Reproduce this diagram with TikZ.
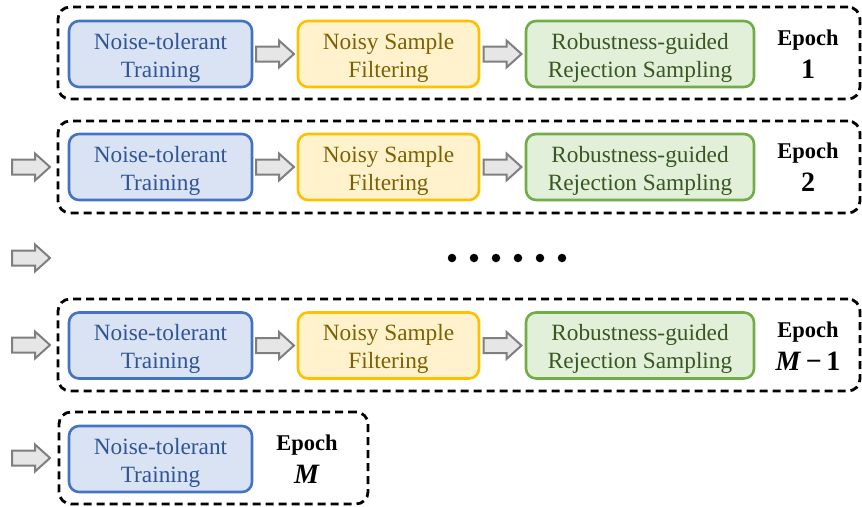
\documentclass[tikz,border=0pt]{standalone}
\usepackage{fontspec}
\setmainfont{Liberation Serif}
\usetikzlibrary{calc}
\definecolor{bfill}{HTML}{DAE3F3}
\definecolor{bdraw}{HTML}{4472C4}
\definecolor{btext}{HTML}{2F5597}
\definecolor{yfill}{HTML}{FFF2CC}
\definecolor{ydraw}{HTML}{FFC000}
\definecolor{ytext}{HTML}{7F6000}
\definecolor{gfill}{HTML}{E2F0D9}
\definecolor{gdraw}{HTML}{70AD47}
\definecolor{gtext}{HTML}{385723}
\definecolor{afill}{HTML}{E7E6E6}
\definecolor{adraw}{HTML}{7F7F7F}
\tikzset{
  x=1pt, y=-1pt,
  stepbox/.style={rounded corners=10pt, line width=2.6pt, minimum height=66pt, inner sep=0pt},
  steptext/.style={align=center, inner sep=0pt, yshift=-3.5pt, font=\fontsize{23.3}{28}\selectfont},
  bluebox/.style={stepbox, fill=bfill, draw=bdraw, minimum width=183pt,
    label={[steptext, text=btext]center:Noise-tolerant\\Training}},
  yellowbox/.style={stepbox, fill=yfill, draw=ydraw, minimum width=181pt,
    label={[steptext, text=ytext]center:Noisy Sample\\Filtering}},
  greenbox/.style={stepbox, fill=gfill, draw=gdraw, minimum width=228pt,
    label={[steptext, text=gtext]center:Robustness-guided\\Rejection Sampling}},
  dbox/.style={draw=black, line width=2.8pt, dash pattern=on 8pt off 5pt, rounded corners=12pt, minimum height=92pt, inner sep=0pt},
  epochlab/.style={align=center, inner sep=0pt, font=\fontsize{22.5}{33}\selectfont\bfseries},
  barrowstyle/.style={fill=afill, draw=adraw, line width=2pt},
  barrow/.pic={\draw[barrowstyle] (-19,-7.5) -- (4,-7.5) -- (4,-13.5) -- (19,0) -- (4,13.5) -- (4,7.5) -- (-19,7.5) -- cycle;},
  dotc/.style={circle, fill=black, minimum size=8.5pt, inner sep=0pt}
}
\begin{document}
\begin{tikzpicture}
\useasboundingbox (0,0) rectangle (862,506);
% Row 1
\node[dbox, minimum width=802pt] (d1) at (459,53) {};
\node[bluebox] (b1) at (160.5,54) {};
\node[yellowbox] (y1) at (388.5,54) {};
\node[greenbox] (g1) at (640,54) {};
\node[epochlab] (e1) at (808,54) {Epoch\\{\fontsize{28}{28}\selectfont 1}};
\pic at ($(b1.east)!0.5!(y1.west)$) {barrow};
\pic at ($(y1.east)!0.5!(g1.west)$) {barrow};
% Row 2
\node[dbox, minimum width=802pt] (d2) at (459,167) {};
\node[bluebox] (b2) at (160.5,167) {};
\node[yellowbox] (y2) at (388.5,167) {};
\node[greenbox] (g2) at (640,167) {};
\node[epochlab] (e2) at (808,167) {Epoch\\{\fontsize{28}{28}\selectfont 2}};
\pic at ($(b2.east)!0.5!(y2.west)$) {barrow};
\pic at ($(y2.east)!0.5!(g2.west)$) {barrow};
\coordinate (l2) at (31,167);
\pic at (l2) {barrow};
% Dots row
\coordinate (l3) at (31,258);
\pic at (l3) {barrow};
\foreach \i in {0,...,5} {\node[dotc] (dot\i) at (452+22*\i,258) {};}
% Row 3
\node[dbox, minimum width=802pt] (d3) at (459,345) {};
\node[bluebox] (b3) at (160.5,345.5) {};
\node[yellowbox] (y3) at (388.5,345.5) {};
\node[greenbox] (g3) at (640,345.5) {};
\node[epochlab] (e3) at (808,346) {Epoch\\{\fontsize{28}{28}\selectfont\textit{M}\,−\,1}};
\pic at ($(b3.east)!0.5!(y3.west)$) {barrow};
\pic at ($(y3.east)!0.5!(g3.west)$) {barrow};
\coordinate (l4) at (31,345);
\pic at (l4) {barrow};
% Row 4
\node[dbox, minimum width=309pt] (d4) at (213.5,458) {};
\node[bluebox] (b4) at (160.5,459) {};
\node[epochlab] (e4) at (307,459) {Epoch\\{\fontsize{28}{28}\selectfont\textit{M}}};
\coordinate (l5) at (31,458);
\pic at (l5) {barrow};
\end{tikzpicture}
\end{document}
